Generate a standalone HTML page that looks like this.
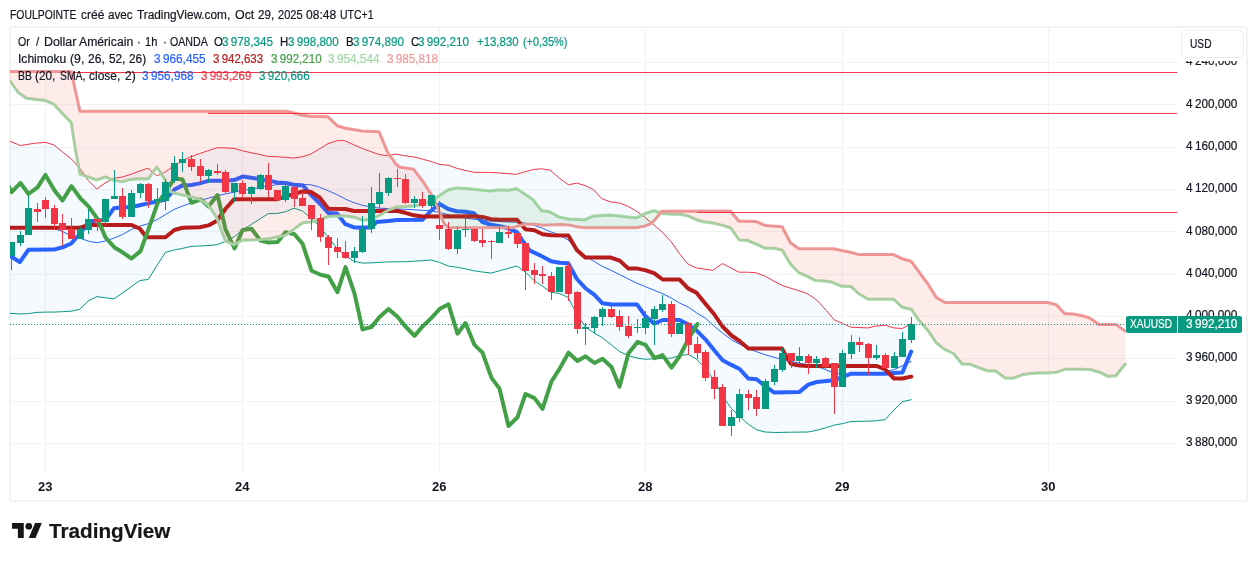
<!DOCTYPE html>
<html><head><meta charset="utf-8"><title>chart</title>
<style>
html,body{margin:0;padding:0;background:#fff;}
body{width:1257px;height:561px;position:relative;overflow:hidden;font-family:"Liberation Sans",sans-serif;color:#131722;}
.t{position:absolute;white-space:pre;transform-origin:0 0;-webkit-text-stroke:0.2px currentColor;}
#frame{position:absolute;left:9px;top:26px;width:1235px;height:472px;border:2px solid #f3f3f4;border-radius:3px;box-sizing:content-box;}
svg{position:absolute;left:0;top:0;}
#usd{position:absolute;left:1181px;top:30px;width:60.5px;height:25.5px;border:1px solid #eeeef0;border-radius:4.5px;background:#fff;box-sizing:content-box;}
.lab{position:absolute;top:316px;height:17px;background:#089981;}
</style></head><body>
<div id="frame"></div>
<svg width="1257" height="561" viewBox="0 0 1257 561">
<defs><clipPath id="cp"><rect x="10" y="27" width="1167" height="446"/></clipPath></defs>
<g clip-path="url(#cp)">
<line x1="10" x2="1177" y1="62.5" y2="62.5" stroke="#f2f3f3" stroke-width="1"/>
<line x1="10" x2="1177" y1="104.5" y2="104.5" stroke="#f2f3f3" stroke-width="1"/>
<line x1="10" x2="1177" y1="147.5" y2="147.5" stroke="#f2f3f3" stroke-width="1"/>
<line x1="10" x2="1177" y1="189.5" y2="189.5" stroke="#f2f3f3" stroke-width="1"/>
<line x1="10" x2="1177" y1="231.5" y2="231.5" stroke="#f2f3f3" stroke-width="1"/>
<line x1="10" x2="1177" y1="274.5" y2="274.5" stroke="#f2f3f3" stroke-width="1"/>
<line x1="10" x2="1177" y1="316.5" y2="316.5" stroke="#f2f3f3" stroke-width="1"/>
<line x1="10" x2="1177" y1="358.5" y2="358.5" stroke="#f2f3f3" stroke-width="1"/>
<line x1="10" x2="1177" y1="401.5" y2="401.5" stroke="#f2f3f3" stroke-width="1"/>
<line x1="10" x2="1177" y1="443.5" y2="443.5" stroke="#f2f3f3" stroke-width="1"/>
<line x1="45.5" x2="45.5" y1="27" y2="473" stroke="#f2f3f3" stroke-width="1"/>
<line x1="242.5" x2="242.5" y1="27" y2="473" stroke="#f2f3f3" stroke-width="1"/>
<line x1="439.5" x2="439.5" y1="27" y2="473" stroke="#f2f3f3" stroke-width="1"/>
<line x1="645.5" x2="645.5" y1="27" y2="473" stroke="#f2f3f3" stroke-width="1"/>
<line x1="842.5" x2="842.5" y1="27" y2="473" stroke="#f2f3f3" stroke-width="1"/>
<line x1="1048.5" x2="1048.5" y1="27" y2="473" stroke="#f2f3f3" stroke-width="1"/>
<polyline points="10.0,226.8 45.4,227.8 54.0,228.5 62.6,231.6 71.2,235.7 79.8,238.1 88.4,241.2 97.0,242.8 105.6,240.9 113.9,238.1 122.5,234.5 131.1,229.7 139.7,226.1 148.3,223.7 156.9,219.7 165.5,214.5 174.1,209.4 182.7,206.0 191.1,203.0 199.7,200.6 208.3,198.2 216.9,195.8 225.5,193.9 234.1,192.2 242.7,190.5 251.3,189.0 259.9,187.5 268.5,186.0 277.0,184.6 285.6,183.7 294.2,183.6 303.0,184.3 311.0,184.8 319.6,187.2 328.2,190.7 336.8,194.5 345.4,199.1 354.0,202.7 362.4,205.3 371.0,207.0 379.6,208.2 405.4,209.3 422.6,210.3 431.0,210.8 439.5,212.5 448.1,214.6 456.7,216.5 465.3,218.0 473.9,219.3 482.5,220.1 491.1,221.1 499.7,221.6 508.1,222.0 516.7,222.3 525.3,223.0 533.9,225.2 542.5,228.3 551.1,232.0 559.5,235.0 568.2,240.0 576.9,249.5 585.4,256.5 593.8,261.2 602.2,266.3 610.8,270.2 619.7,274.6 628.1,278.9 636.6,283.0 645.2,286.6 654.0,290.2 662.7,293.7 671.2,298.0 679.5,303.0 688.2,307.0 696.7,313.0 705.2,318.0 714.0,326.0 722.5,333.0 731.5,339.8 748.4,348.8 765.3,354.8 782.2,359.6 799.0,363.0 816.7,366.3 825.5,369.7 834.3,373.0 842.6,374.0 876.5,373.7 885.2,372.0 894.0,369.6 902.4,365.8 911.2,361.4" fill="none" stroke="#2962ff" stroke-width="1" stroke-linejoin="round" stroke-linecap="round" />
<polyline points="10.0,141.2 20.3,145.5 35.8,143.1 45.4,142.4 53.7,144.8 62.6,152.0 71.6,159.1 80.0,168.7 88.4,180.6 96.7,189.0 105.1,183.0 114.2,178.2 122.5,177.0 131.1,174.2 139.5,171.1 148.1,168.2 156.7,175.8 164.8,172.3 173.2,166.3 182.7,160.3 191.1,156.7 199.4,153.6 207.8,150.8 217.3,147.7 225.2,147.9 234.1,148.4 242.4,150.8 250.8,152.7 259.1,154.3 267.5,156.3 277.0,156.7 286.6,157.4 293.1,158.1 301.5,156.9 309.9,154.5 318.2,149.7 327.8,143.7 337.3,140.6 344.5,140.6 354.0,144.9 362.4,148.5 370.8,151.6 379.1,154.5 387.5,155.7 395.8,154.0 404.2,155.7 413.7,156.9 423.3,159.3 431.7,161.7 440.0,164.5 448.4,165.2 456.7,168.3 466.3,170.7 474.7,172.4 491.4,172.4 508.1,173.6 516.4,174.3 524.8,171.9 533.2,169.5 541.5,168.8 549.9,170.0 558.2,177.2 568.4,184.8 576.7,183.1 585.0,185.5 593.4,189.6 601.8,198.7 610.2,201.8 619.7,203.0 628.1,206.3 636.4,211.1 644.8,217.3 653.9,224.9 662.7,232.6 671.1,241.6 679.4,253.6 687.8,263.9 696.1,267.9 704.5,269.1 712.9,270.3 722.4,263.6 730.8,267.9 739.1,272.2 747.5,272.2 755.8,272.7 765.4,276.3 773.8,281.1 782.1,285.4 790.5,288.2 798.8,290.6 807.2,293.7 815.5,299.0 820.0,303.5 826.4,310.5 834.1,319.8 842.5,323.4 850.8,327.2 859.8,327.6 868.1,327.9 876.5,325.9 885.5,325.3 893.8,327.9 902.2,328.5 911.2,323.6" fill="none" stroke="#f23645" stroke-width="1" stroke-linejoin="round" stroke-linecap="round" />
<polyline points="10.0,313.3 19.8,314.0 28.4,313.6 37.0,312.4 45.4,312.1 54.0,312.1 62.6,311.7 71.2,311.2 79.8,309.3 88.4,300.9 97.0,296.6 105.6,297.8 113.9,298.8 122.5,293.0 131.1,286.8 139.7,280.6 148.3,279.4 156.9,265.6 165.5,252.4 174.1,250.0 182.7,248.4 191.1,246.4 199.7,246.0 208.3,245.5 216.9,244.8 225.5,241.4 234.1,236.9 242.7,229.7 251.3,224.5 259.9,219.0 268.2,213.7 276.8,213.5 285.4,211.8 294.0,208.2 302.5,211.0 311.0,218.2 319.6,226.6 328.2,237.3 336.8,248.1 345.4,256.0 354.0,261.2 362.4,263.1 371.0,262.9 379.6,262.4 388.2,261.9 405.4,261.7 414.0,261.2 422.6,260.7 430.9,260.0 439.5,262.4 448.1,266.0 456.7,267.2 465.3,268.8 473.9,270.8 482.5,272.0 491.1,273.1 499.7,270.8 508.1,268.4 516.7,266.0 525.3,272.0 533.9,280.3 542.5,286.3 551.1,292.3 559.4,293.4 568.2,297.5 577.2,315.1 585.6,327.0 594.2,333.0 602.5,337.8 611.3,344.9 619.7,351.6 628.5,355.7 637.1,358.1 645.5,359.3 654.3,358.8 662.7,358.5 671.5,358.1 679.8,355.5 688.5,354.5 696.2,358.9 705.4,368.4 714.0,380.5 722.6,396.0 731.6,408.8 739.5,416.5 748.4,424.3 756.7,429.8 765.1,432.0 774.6,432.5 791.4,432.2 808.1,432.0 816.7,430.3 825.5,427.9 834.3,425.1 842.7,423.6 851.1,421.5 867.8,421.2 876.4,420.8 885.2,419.6 894.0,410.0 902.4,401.7 911.2,399.7" fill="none" stroke="#089981" stroke-width="1" stroke-linejoin="round" stroke-linecap="round" />
<polygon points="10.0,141.2 20.3,145.5 35.8,143.1 45.4,142.4 53.7,144.8 62.6,152.0 71.6,159.1 80.0,168.7 88.4,180.6 96.7,189.0 105.1,183.0 114.2,178.2 122.5,177.0 131.1,174.2 139.5,171.1 148.1,168.2 156.7,175.8 164.8,172.3 173.2,166.3 182.7,160.3 191.1,156.7 199.4,153.6 207.8,150.8 217.3,147.7 225.2,147.9 234.1,148.4 242.4,150.8 250.8,152.7 259.1,154.3 267.5,156.3 277.0,156.7 286.6,157.4 293.1,158.1 301.5,156.9 309.9,154.5 318.2,149.7 327.8,143.7 337.3,140.6 344.5,140.6 354.0,144.9 362.4,148.5 370.8,151.6 379.1,154.5 387.5,155.7 395.8,154.0 404.2,155.7 413.7,156.9 423.3,159.3 431.7,161.7 440.0,164.5 448.4,165.2 456.7,168.3 466.3,170.7 474.7,172.4 491.4,172.4 508.1,173.6 516.4,174.3 524.8,171.9 533.2,169.5 541.5,168.8 549.9,170.0 558.2,177.2 568.4,184.8 576.7,183.1 585.0,185.5 593.4,189.6 601.8,198.7 610.2,201.8 619.7,203.0 628.1,206.3 636.4,211.1 644.8,217.3 653.9,224.9 662.7,232.6 671.1,241.6 679.4,253.6 687.8,263.9 696.1,267.9 704.5,269.1 712.9,270.3 722.4,263.6 730.8,267.9 739.1,272.2 747.5,272.2 755.8,272.7 765.4,276.3 773.8,281.1 782.1,285.4 790.5,288.2 798.8,290.6 807.2,293.7 815.5,299.0 820.0,303.5 826.4,310.5 834.1,319.8 842.5,323.4 850.8,327.2 859.8,327.6 868.1,327.9 876.5,325.9 885.5,325.3 893.8,327.9 902.2,328.5 911.2,323.6 911.2,399.7 902.4,401.7 894.0,410.0 885.2,419.6 876.4,420.8 867.8,421.2 851.1,421.5 842.7,423.6 834.3,425.1 825.5,427.9 816.7,430.3 808.1,432.0 791.4,432.2 774.6,432.5 765.1,432.0 756.7,429.8 748.4,424.3 739.5,416.5 731.6,408.8 722.6,396.0 714.0,380.5 705.4,368.4 696.2,358.9 688.5,354.5 679.8,355.5 671.5,358.1 662.7,358.5 654.3,358.8 645.5,359.3 637.1,358.1 628.5,355.7 619.7,351.6 611.3,344.9 602.5,337.8 594.2,333.0 585.6,327.0 577.2,315.1 568.2,297.5 559.4,293.4 551.1,292.3 542.5,286.3 533.9,280.3 525.3,272.0 516.7,266.0 508.1,268.4 499.7,270.8 491.1,273.1 482.5,272.0 473.9,270.8 465.3,268.8 456.7,267.2 448.1,266.0 439.5,262.4 430.9,260.0 422.6,260.7 414.0,261.2 405.4,261.7 388.2,261.9 379.6,262.4 371.0,262.9 362.4,263.1 354.0,261.2 345.4,256.0 336.8,248.1 328.2,237.3 319.6,226.6 311.0,218.2 302.5,211.0 294.0,208.2 285.4,211.8 276.8,213.5 268.2,213.7 259.9,219.0 251.3,224.5 242.7,229.7 234.1,236.9 225.5,241.4 216.9,244.8 208.3,245.5 199.7,246.0 191.1,246.4 182.7,248.4 174.1,250.0 165.5,252.4 156.9,265.6 148.3,279.4 139.7,280.6 131.1,286.8 122.5,293.0 113.9,298.8 105.6,297.8 97.0,296.6 88.4,300.9 79.8,309.3 71.2,311.2 62.6,311.7 54.0,312.1 45.4,312.1 37.0,312.4 28.4,313.6 19.8,314.0 10.0,313.3" fill="rgba(33,150,243,0.05)"/>
<polyline points="10.0,256.0 11.2,256.5 19.8,262.2 28.4,249.8 54.0,249.6 62.6,247.3 71.2,243.5 79.8,234.0 88.4,222.0 97.0,220.3 105.6,219.9 113.9,208.2 122.5,207.2 131.1,207.2 139.7,205.2 148.3,203.4 156.9,201.5 165.5,199.5 174.5,189.5 182.6,185.4 191.1,185.0 199.7,183.4 208.4,180.8 226.0,180.8 234.2,180.1 242.7,176.6 251.3,177.8 260.0,179.0 268.6,180.6 277.1,182.4 285.5,183.0 294.0,184.8 302.9,185.4 311.1,195.0 319.6,203.4 328.3,213.0 337.0,213.5 345.4,224.2 354.1,227.4 371.1,227.6 376.5,222.0 388.3,221.0 397.0,220.1 422.6,219.7 431.2,210.5 439.7,204.0 448.2,209.0 456.7,211.2 465.3,211.8 474.0,213.3 482.5,222.0 491.2,224.8 499.7,226.2 508.2,228.3 517.0,232.2 523.5,242.3 529.9,250.6 539.5,255.1 551.2,261.3 559.7,262.8 568.2,263.2 576.9,279.0 585.7,288.5 594.2,294.7 602.5,303.3 611.3,304.4 637.0,304.4 645.5,316.4 654.2,323.6 662.7,320.0 679.5,320.0 688.4,324.6 696.4,330.4 705.4,339.3 714.0,350.0 722.6,360.2 731.4,364.9 739.6,369.0 748.4,378.6 756.7,379.3 765.2,386.2 774.2,392.6 799.5,391.9 808.3,384.6 816.7,382.0 834.3,380.2 842.6,377.0 851.1,373.7 885.2,373.7 894.0,373.0 902.4,372.5 911.2,351.5" fill="none" stroke="#2962ff" stroke-width="4" stroke-linejoin="round" stroke-linecap="round" />
<polyline points="10.0,227.8 79.8,227.8 88.4,224.9 131.1,224.9 139.7,228.5 146.5,237.2 165.5,237.2 174.3,230.0 182.6,227.8 199.7,227.3 208.4,225.4 217.0,220.7 225.8,208.5 234.2,199.2 277.3,199.2 285.7,196.5 294.0,193.9 302.5,191.5 311.0,192.0 319.6,197.5 328.3,208.7 345.4,209.0 354.0,211.0 379.6,211.0 396.8,210.8 405.4,212.8 414.0,215.3 422.6,216.5 474.2,216.3 482.5,216.9 491.2,219.3 499.7,219.7 517.0,219.7 525.4,229.2 534.4,230.2 542.6,234.3 551.2,235.2 568.3,235.6 576.8,250.0 585.3,257.6 610.8,257.6 619.7,260.6 628.1,268.4 636.4,268.4 645.0,270.1 654.0,273.2 662.7,279.5 679.5,279.5 688.0,288.4 696.5,292.8 705.4,303.8 714.0,314.0 722.5,326.5 731.5,335.5 739.5,341.0 748.4,348.5 782.0,348.5 786.8,357.5 791.1,364.0 799.5,365.6 808.3,365.9 876.4,365.9 885.2,369.4 894.0,378.5 902.4,378.5 911.2,376.6" fill="none" stroke="#b71c1c" stroke-width="4" stroke-linejoin="round" stroke-linecap="round" />
<polyline points="2.5,173.0 11.5,192.1 20.5,183.0 28.5,194.0 37.5,187.3 45.5,174.9 54.5,190.4 62.5,200.5 71.5,186.1 80.5,198.5 88.5,206.4 97.5,218.8 105.5,237.5 114.5,247.5 122.5,252.3 131.5,258.5 140.5,251.1 148.5,229.1 157.5,203.3 165.5,192.1 174.5,178.2 182.5,179.4 191.5,202.8 200.5,199.3 208.5,206.4 217.5,195.0 225.5,229.4 234.5,248.5 242.5,230.1 251.5,228.7 260.5,240.6 268.5,242.5 277.5,242.1 285.5,232.3 294.5,234.2 302.5,243.7 311.5,270.7 320.5,274.8 328.5,276.5 337.5,292.2 345.5,267.1 354.5,293.6 362.5,329.4 371.5,327.0 379.5,317.0 388.5,309.1 397.5,316.7 405.5,326.5 414.5,335.9 422.5,326.5 431.5,317.9 439.5,309.1 448.5,304.3 457.5,333.7 465.5,323.0 474.5,344.9 482.5,352.6 491.5,377.9 499.5,388.6 508.5,426.0 517.5,417.2 525.5,394.0 534.5,398.1 542.5,408.8 551.5,381.3 559.5,368.9 568.5,352.7 577.5,361.0 585.5,356.3 594.5,363.0 602.5,358.7 611.5,367.0 619.5,386.8 628.5,353.2 637.5,341.9 645.5,344.8 654.5,358.2 662.5,355.1 671.5,367.7 679.5,356.3 688.5,339.1 697.5,324.0" fill="none" stroke="#43a047" stroke-width="4" stroke-linejoin="round" stroke-linecap="round" />
<polyline points="10.0,81.0 17.9,92.2 26.3,98.2 35.8,99.4 45.4,100.6 53.7,104.2 62.6,113.7 71.2,122.6 75.2,148.4 80.0,174.2 88.4,177.0 96.7,180.1 105.1,177.0 114.2,180.6 122.5,181.8 131.1,179.4 139.5,178.7 148.4,179.0 156.7,167.0 161.5,174.2 165.6,181.3 169.9,190.9 174.2,193.3 182.5,195.0 191.1,196.9 199.7,199.3 208.5,205.2 217.1,218.4 221.2,230.3 225.5,241.0 233.9,244.6 242.2,240.3 251.1,239.9 260.1,239.4 269.0,238.7 277.3,237.0 285.7,235.1 294.0,229.1 302.9,222.7 311.2,222.0 320.1,219.6 328.4,216.5 337.3,216.0 345.4,216.0 354.2,217.2 362.6,220.3 371.2,219.6 379.6,215.5 388.4,210.0 397.2,206.9 405.6,206.4 414.2,206.0 422.5,204.5 431.7,201.0 440.0,195.1 448.4,189.8 456.7,187.9 466.3,188.4 483.0,190.3 491.4,191.0 498.5,189.8 508.1,190.3 516.4,188.6 524.8,193.9 533.2,199.9 541.5,210.6 549.9,211.8 558.2,216.6 568.4,219.0 585.0,219.7 593.4,216.1 610.2,214.9 619.7,215.9 628.1,217.0 636.4,217.8 644.8,213.5 653.9,210.6 662.7,213.5 671.1,214.2 679.4,214.2 687.8,215.9 696.1,219.7 704.5,222.1 712.9,223.0 722.4,225.4 730.8,228.0 739.1,240.0 747.5,240.5 755.8,244.0 765.4,248.3 773.8,248.3 782.1,250.0 790.5,264.3 798.8,272.7 807.2,276.3 815.5,280.6 823.9,281.1 832.3,282.3 841.8,286.3 850.7,286.4 859.1,294.0 868.2,299.3 893.7,299.3 902.1,307.2 911.5,309.5 919.1,320.6 927.7,330.2 936.3,343.0 944.9,349.6 953.5,353.5 962.0,364.0 970.6,364.3 979.2,367.8 987.8,371.0 995.5,371.0 1005.0,377.9 1012.6,378.3 1022.2,374.8 1030.8,373.5 1039.4,373.1 1048.0,372.9 1056.6,372.2 1065.2,369.3 1073.7,369.3 1082.3,369.3 1090.9,369.7 1099.5,372.2 1108.1,376.4 1115.8,375.8 1125.3,364.0" fill="none" stroke="#a5d6a7" stroke-width="3" stroke-linejoin="round" stroke-linecap="round" />
<polyline points="10.0,71.5 71.2,71.5 80.0,111.3 286.6,111.3 293.0,112.7 301.5,115.0 310.0,116.3 327.8,116.7 337.3,125.8 345.7,128.2 362.4,131.0 379.1,131.8 387.5,152.0 395.8,164.0 399.4,167.0 413.7,169.3 423.3,182.0 431.7,195.0 434.8,200.7 439.6,212.7 443.9,223.4 447.9,227.5 512.4,227.7 520.8,225.3 525.5,224.2 534.4,224.2 542.7,225.3 560.0,224.5 568.4,224.9 576.7,226.8 585.0,227.8 636.4,227.8 644.8,226.1 650.8,223.7 652.5,222.4 656.8,217.6 661.7,211.2 730.5,211.0 738.7,221.0 755.8,221.4 765.4,225.6 782.1,226.8 790.5,242.8 798.8,248.8 833.5,248.8 841.8,250.5 850.7,252.2 859.1,254.6 893.7,254.6 902.1,258.7 911.2,261.3 919.5,272.5 927.9,284.0 936.3,297.4 945.1,302.5 1047.8,302.5 1056.1,304.6 1064.5,313.6 1072.9,313.9 1081.2,315.5 1089.6,317.9 1099.1,324.4 1115.9,324.4 1125.3,331.1" fill="none" stroke="#ef9a9a" stroke-width="3" stroke-linejoin="round" stroke-linecap="round" />
<polygon points="10.0,81.0 17.9,92.2 26.3,98.2 35.8,99.4 45.4,100.6 53.7,104.2 62.6,113.7 71.2,122.6 75.2,148.4 80.0,174.2 88.4,177.0 96.7,180.1 105.1,177.0 114.2,180.6 122.5,181.8 131.1,179.4 139.5,178.7 148.4,179.0 156.7,167.0 161.5,174.2 165.6,181.3 169.9,190.9 174.2,193.3 182.5,195.0 191.1,196.9 199.7,199.3 208.5,205.2 217.1,218.4 221.2,230.3 225.5,241.0 233.9,244.6 242.2,240.3 251.1,239.9 260.1,239.4 269.0,238.7 277.3,237.0 285.7,235.1 286.6,234.4 293.0,229.8 294.0,229.1 301.5,223.7 302.9,222.7 310.0,222.1 311.2,222.0 320.1,219.6 327.8,216.7 328.4,216.5 337.3,216.0 345.4,216.0 345.7,216.0 354.2,217.2 362.4,220.2 362.6,220.3 371.2,219.6 379.1,215.7 379.6,215.5 387.5,210.6 388.4,210.0 395.8,207.4 397.2,206.9 399.4,206.8 405.6,206.4 413.7,206.0 414.2,206.0 422.5,204.5 423.3,204.2 431.7,201.0 434.1,199.3 434.1,199.3 431.7,195.0 423.3,182.0 422.5,180.9 414.2,170.0 413.7,169.3 405.6,168.0 399.4,167.0 397.2,165.2 395.8,164.0 388.4,153.3 387.5,152.0 379.6,133.0 379.1,131.8 371.2,131.4 362.6,131.0 362.4,131.0 354.2,129.6 345.7,128.2 345.4,128.1 337.3,125.8 328.4,117.3 327.8,116.7 320.1,116.5 311.2,116.3 310.0,116.3 302.9,115.2 301.5,115.0 294.0,113.0 293.0,112.7 286.6,111.3 285.7,111.3 277.3,111.3 269.0,111.3 260.1,111.3 251.1,111.3 242.2,111.3 233.9,111.3 225.5,111.3 221.2,111.3 217.1,111.3 208.5,111.3 199.7,111.3 191.1,111.3 182.5,111.3 174.2,111.3 169.9,111.3 165.6,111.3 161.5,111.3 156.7,111.3 148.4,111.3 139.5,111.3 131.1,111.3 122.5,111.3 114.2,111.3 105.1,111.3 96.7,111.3 88.4,111.3 80.0,111.3 75.2,89.6 71.2,71.5 62.6,71.5 53.7,71.5 45.4,71.5 35.8,71.5 26.3,71.5 17.9,71.5 10.0,71.5" fill="rgba(244,67,54,0.1)"/>
<polygon points="434.1,199.3 434.8,198.8 439.6,195.4 440.0,195.1 443.9,192.6 447.9,190.1 448.4,189.8 456.7,187.9 466.3,188.4 483.0,190.3 491.4,191.0 498.5,189.8 508.1,190.3 512.4,189.4 516.4,188.6 520.8,191.4 524.8,193.9 525.5,194.4 533.2,199.9 534.4,201.4 541.5,210.6 542.7,210.8 549.9,211.8 558.2,216.6 560.0,217.0 568.4,219.0 576.7,219.3 585.0,219.7 593.4,216.1 610.2,214.9 619.7,215.9 628.1,217.0 636.4,217.8 644.8,213.5 650.8,211.6 652.5,211.0 653.9,210.6 656.8,211.6 660.5,212.8 660.5,212.8 656.8,217.6 653.9,220.8 652.5,222.4 650.8,223.7 644.8,226.1 636.4,227.8 628.1,227.8 619.7,227.8 610.2,227.8 593.4,227.8 585.0,227.8 576.7,226.8 568.4,224.9 560.0,224.5 558.2,224.6 549.9,225.0 542.7,225.3 541.5,225.1 534.4,224.2 533.2,224.2 525.5,224.2 524.8,224.4 520.8,225.3 516.4,226.6 512.4,227.7 508.1,227.7 498.5,227.7 491.4,227.6 483.0,227.6 466.3,227.6 456.7,227.5 448.4,227.5 447.9,227.5 443.9,223.4 440.0,213.7 439.6,212.7 434.8,200.7 434.1,199.3" fill="rgba(67,160,71,0.1)"/>
<polygon points="660.5,212.8 661.7,213.2 662.7,213.5 671.1,214.2 679.4,214.2 687.8,215.9 696.1,219.7 704.5,222.1 712.9,223.0 722.4,225.4 730.5,227.9 730.8,228.0 738.7,239.4 739.1,240.0 747.5,240.5 755.8,244.0 765.4,248.3 773.8,248.3 782.1,250.0 790.5,264.3 798.8,272.7 807.2,276.3 815.5,280.6 823.9,281.1 832.3,282.3 833.5,282.8 841.8,286.3 850.7,286.4 859.1,294.0 868.2,299.3 893.7,299.3 902.1,307.2 911.2,309.4 911.5,309.5 919.1,320.6 919.5,321.0 927.7,330.2 927.9,330.5 936.3,343.0 944.9,349.6 945.1,349.7 953.5,353.5 962.0,364.0 970.6,364.3 979.2,367.8 987.8,371.0 995.5,371.0 1005.0,377.9 1012.6,378.3 1022.2,374.8 1030.8,373.5 1039.4,373.1 1047.8,372.9 1048.0,372.9 1056.1,372.2 1056.6,372.2 1064.5,369.5 1065.2,369.3 1072.9,369.3 1073.7,369.3 1081.2,369.3 1082.3,369.3 1089.6,369.6 1090.9,369.7 1099.1,372.1 1099.5,372.2 1108.1,376.4 1115.8,375.8 1115.9,375.7 1125.3,364.0 1125.3,331.1 1115.9,324.4 1115.8,324.4 1108.1,324.4 1099.5,324.4 1099.1,324.4 1090.9,318.8 1089.6,317.9 1082.3,315.8 1081.2,315.5 1073.7,314.1 1072.9,313.9 1065.2,313.6 1064.5,313.6 1056.6,305.1 1056.1,304.6 1048.0,302.6 1047.8,302.5 1039.4,302.5 1030.8,302.5 1022.2,302.5 1012.6,302.5 1005.0,302.5 995.5,302.5 987.8,302.5 979.2,302.5 970.6,302.5 962.0,302.5 953.5,302.5 945.1,302.5 944.9,302.4 936.3,297.4 927.9,284.0 927.7,283.7 919.5,272.5 919.1,272.0 911.5,261.7 911.2,261.3 902.1,258.7 893.7,254.6 868.2,254.6 859.1,254.6 850.7,252.2 841.8,250.5 833.5,248.8 832.3,248.8 823.9,248.8 815.5,248.8 807.2,248.8 798.8,248.8 790.5,242.8 782.1,226.8 773.8,226.2 765.4,225.6 755.8,221.4 747.5,221.2 739.1,221.0 738.7,221.0 730.8,211.4 730.5,211.0 722.4,211.0 712.9,211.1 704.5,211.1 696.1,211.1 687.8,211.1 679.4,211.1 671.1,211.2 662.7,211.2 661.7,211.2 660.5,212.8" fill="rgba(244,67,54,0.1)"/>
<line x1="11.5" x2="11.5" y1="242.0" y2="270.0" stroke="#089981" stroke-width="1"/>
<rect x="8.0" y="242.0" width="7" height="14.0" fill="#089981"/>
<line x1="20.5" x2="20.5" y1="231.0" y2="246.0" stroke="#089981" stroke-width="1"/>
<rect x="17.0" y="235.0" width="7" height="8.0" fill="#089981"/>
<line x1="28.5" x2="28.5" y1="196.0" y2="235.0" stroke="#089981" stroke-width="1"/>
<rect x="25.0" y="208.0" width="7" height="27.0" fill="#089981"/>
<line x1="37.5" x2="37.5" y1="203.0" y2="222.0" stroke="#f23645" stroke-width="1"/>
<rect x="34.0" y="209.0" width="7" height="3.0" fill="#f23645"/>
<line x1="45.5" x2="45.5" y1="197.0" y2="218.0" stroke="#f23645" stroke-width="1"/>
<rect x="42.0" y="200.0" width="7" height="9.0" fill="#f23645"/>
<line x1="54.5" x2="54.5" y1="205.0" y2="230.0" stroke="#f23645" stroke-width="1"/>
<rect x="51.0" y="208.0" width="7" height="16.0" fill="#f23645"/>
<line x1="62.5" x2="62.5" y1="214.0" y2="246.0" stroke="#f23645" stroke-width="1"/>
<rect x="59.0" y="223.0" width="7" height="7.0" fill="#f23645"/>
<line x1="71.5" x2="71.5" y1="218.0" y2="239.0" stroke="#f23645" stroke-width="1"/>
<rect x="68.0" y="229.0" width="7" height="10.0" fill="#f23645"/>
<line x1="80.5" x2="80.5" y1="227.0" y2="239.0" stroke="#089981" stroke-width="1"/>
<rect x="77.0" y="229.0" width="7" height="10.0" fill="#089981"/>
<line x1="88.5" x2="88.5" y1="209.0" y2="234.0" stroke="#089981" stroke-width="1"/>
<rect x="85.0" y="219.0" width="7" height="11.0" fill="#089981"/>
<line x1="97.5" x2="97.5" y1="218.0" y2="231.0" stroke="#f23645" stroke-width="1"/>
<rect x="94.0" y="219.0" width="7" height="3.0" fill="#f23645"/>
<line x1="105.5" x2="105.5" y1="199.0" y2="226.0" stroke="#089981" stroke-width="1"/>
<rect x="102.0" y="199.0" width="7" height="23.0" fill="#089981"/>
<line x1="114.5" x2="114.5" y1="170.0" y2="199.0" stroke="#089981" stroke-width="1"/>
<rect x="111.0" y="196.0" width="7" height="3.0" fill="#089981"/>
<line x1="122.5" x2="122.5" y1="188.0" y2="219.0" stroke="#f23645" stroke-width="1"/>
<rect x="119.0" y="196.0" width="7" height="21.0" fill="#f23645"/>
<line x1="131.5" x2="131.5" y1="190.0" y2="217.0" stroke="#089981" stroke-width="1"/>
<rect x="128.0" y="193.0" width="7" height="24.0" fill="#089981"/>
<line x1="140.5" x2="140.5" y1="183.0" y2="198.0" stroke="#089981" stroke-width="1"/>
<rect x="137.0" y="184.0" width="7" height="9.0" fill="#089981"/>
<line x1="148.5" x2="148.5" y1="183.0" y2="208.0" stroke="#f23645" stroke-width="1"/>
<rect x="145.0" y="184.0" width="7" height="17.0" fill="#f23645"/>
<line x1="157.5" x2="157.5" y1="188.0" y2="202.0" stroke="#089981" stroke-width="1"/>
<rect x="154.0" y="199.0" width="7" height="2.0" fill="#089981"/>
<line x1="165.5" x2="165.5" y1="179.0" y2="210.0" stroke="#089981" stroke-width="1"/>
<rect x="162.0" y="182.0" width="7" height="19.0" fill="#089981"/>
<line x1="174.5" x2="174.5" y1="156.0" y2="183.0" stroke="#089981" stroke-width="1"/>
<rect x="171.0" y="163.0" width="7" height="18.0" fill="#089981"/>
<line x1="182.5" x2="182.5" y1="152.0" y2="172.0" stroke="#089981" stroke-width="1"/>
<rect x="179.0" y="159.0" width="7" height="4.0" fill="#089981"/>
<line x1="191.5" x2="191.5" y1="155.0" y2="171.0" stroke="#f23645" stroke-width="1"/>
<rect x="188.0" y="159.0" width="7" height="8.0" fill="#f23645"/>
<line x1="200.5" x2="200.5" y1="159.0" y2="182.0" stroke="#f23645" stroke-width="1"/>
<rect x="197.0" y="166.0" width="7" height="10.0" fill="#f23645"/>
<line x1="208.5" x2="208.5" y1="169.0" y2="183.0" stroke="#089981" stroke-width="1"/>
<rect x="205.0" y="170.0" width="7" height="6.0" fill="#089981"/>
<line x1="217.5" x2="217.5" y1="164.0" y2="175.0" stroke="#f23645" stroke-width="1"/>
<rect x="214.0" y="171.0" width="7" height="2.0" fill="#f23645"/>
<line x1="225.5" x2="225.5" y1="170.0" y2="193.0" stroke="#f23645" stroke-width="1"/>
<rect x="222.0" y="172.0" width="7" height="20.0" fill="#f23645"/>
<line x1="234.5" x2="234.5" y1="183.0" y2="202.0" stroke="#089981" stroke-width="1"/>
<rect x="231.0" y="183.0" width="7" height="9.0" fill="#089981"/>
<line x1="242.5" x2="242.5" y1="180.0" y2="198.0" stroke="#f23645" stroke-width="1"/>
<rect x="239.0" y="183.0" width="7" height="11.0" fill="#f23645"/>
<line x1="251.5" x2="251.5" y1="186.0" y2="204.0" stroke="#089981" stroke-width="1"/>
<rect x="248.0" y="187.0" width="7" height="7.0" fill="#089981"/>
<line x1="260.5" x2="260.5" y1="174.0" y2="190.0" stroke="#089981" stroke-width="1"/>
<rect x="257.0" y="175.0" width="7" height="14.0" fill="#089981"/>
<line x1="268.5" x2="268.5" y1="163.0" y2="198.0" stroke="#f23645" stroke-width="1"/>
<rect x="265.0" y="175.0" width="7" height="15.0" fill="#f23645"/>
<line x1="277.5" x2="277.5" y1="190.0" y2="201.0" stroke="#f23645" stroke-width="1"/>
<rect x="274.0" y="190.0" width="7" height="10.0" fill="#f23645"/>
<line x1="285.5" x2="285.5" y1="185.0" y2="202.0" stroke="#089981" stroke-width="1"/>
<rect x="282.0" y="186.0" width="7" height="14.0" fill="#089981"/>
<line x1="294.5" x2="294.5" y1="187.0" y2="207.0" stroke="#f23645" stroke-width="1"/>
<rect x="291.0" y="187.0" width="7" height="12.0" fill="#f23645"/>
<line x1="302.5" x2="302.5" y1="192.0" y2="206.0" stroke="#f23645" stroke-width="1"/>
<rect x="299.0" y="198.0" width="7" height="8.0" fill="#f23645"/>
<line x1="311.5" x2="311.5" y1="205.0" y2="230.0" stroke="#f23645" stroke-width="1"/>
<rect x="308.0" y="205.0" width="7" height="14.0" fill="#f23645"/>
<line x1="320.5" x2="320.5" y1="214.0" y2="242.0" stroke="#f23645" stroke-width="1"/>
<rect x="317.0" y="218.0" width="7" height="19.0" fill="#f23645"/>
<line x1="328.5" x2="328.5" y1="235.0" y2="265.0" stroke="#f23645" stroke-width="1"/>
<rect x="325.0" y="237.0" width="7" height="11.0" fill="#f23645"/>
<line x1="337.5" x2="337.5" y1="238.0" y2="258.0" stroke="#f23645" stroke-width="1"/>
<rect x="334.0" y="247.0" width="7" height="5.0" fill="#f23645"/>
<line x1="345.5" x2="345.5" y1="241.0" y2="259.0" stroke="#f23645" stroke-width="1"/>
<rect x="342.0" y="252.0" width="7" height="6.0" fill="#f23645"/>
<line x1="354.5" x2="354.5" y1="247.0" y2="263.0" stroke="#089981" stroke-width="1"/>
<rect x="351.0" y="251.0" width="7" height="7.0" fill="#089981"/>
<line x1="362.5" x2="362.5" y1="216.0" y2="253.0" stroke="#089981" stroke-width="1"/>
<rect x="359.0" y="229.0" width="7" height="23.0" fill="#089981"/>
<line x1="371.5" x2="371.5" y1="187.0" y2="233.0" stroke="#089981" stroke-width="1"/>
<rect x="368.0" y="203.0" width="7" height="26.0" fill="#089981"/>
<line x1="379.5" x2="379.5" y1="173.0" y2="208.0" stroke="#089981" stroke-width="1"/>
<rect x="376.0" y="192.0" width="7" height="12.0" fill="#089981"/>
<line x1="388.5" x2="388.5" y1="177.0" y2="196.0" stroke="#089981" stroke-width="1"/>
<rect x="385.0" y="178.0" width="7" height="15.0" fill="#089981"/>
<line x1="397.5" x2="397.5" y1="169.0" y2="187.0" stroke="#f23645" stroke-width="1"/>
<rect x="394.0" y="178.0" width="7" height="1.0" fill="#f23645"/>
<line x1="405.5" x2="405.5" y1="174.0" y2="204.0" stroke="#f23645" stroke-width="1"/>
<rect x="402.0" y="179.0" width="7" height="24.0" fill="#f23645"/>
<line x1="414.5" x2="414.5" y1="196.0" y2="208.0" stroke="#089981" stroke-width="1"/>
<rect x="411.0" y="199.0" width="7" height="4.0" fill="#089981"/>
<line x1="422.5" x2="422.5" y1="192.0" y2="208.0" stroke="#f23645" stroke-width="1"/>
<rect x="419.0" y="199.0" width="7" height="7.0" fill="#f23645"/>
<line x1="431.5" x2="431.5" y1="195.0" y2="212.0" stroke="#089981" stroke-width="1"/>
<rect x="428.0" y="195.0" width="7" height="11.0" fill="#089981"/>
<line x1="439.5" x2="439.5" y1="201.0" y2="240.0" stroke="#f23645" stroke-width="1"/>
<rect x="436.0" y="225.0" width="7" height="4.0" fill="#f23645"/>
<line x1="448.5" x2="448.5" y1="222.0" y2="250.0" stroke="#f23645" stroke-width="1"/>
<rect x="445.0" y="229.0" width="7" height="20.0" fill="#f23645"/>
<line x1="457.5" x2="457.5" y1="227.0" y2="254.0" stroke="#089981" stroke-width="1"/>
<rect x="454.0" y="230.0" width="7" height="19.0" fill="#089981"/>
<line x1="465.5" x2="465.5" y1="213.0" y2="237.0" stroke="#089981" stroke-width="1"/>
<rect x="462.0" y="229.0" width="7" height="1.0" fill="#089981"/>
<line x1="474.5" x2="474.5" y1="229.0" y2="242.0" stroke="#f23645" stroke-width="1"/>
<rect x="471.0" y="229.0" width="7" height="12.0" fill="#f23645"/>
<line x1="482.5" x2="482.5" y1="229.0" y2="247.0" stroke="#f23645" stroke-width="1"/>
<rect x="479.0" y="240.0" width="7" height="3.0" fill="#f23645"/>
<line x1="491.5" x2="491.5" y1="240.0" y2="259.0" stroke="#f23645" stroke-width="1"/>
<rect x="488.0" y="241.0" width="7" height="1.0" fill="#f23645"/>
<line x1="499.5" x2="499.5" y1="227.0" y2="243.0" stroke="#089981" stroke-width="1"/>
<rect x="496.0" y="232.0" width="7" height="11.0" fill="#089981"/>
<line x1="508.5" x2="508.5" y1="226.0" y2="238.0" stroke="#f23645" stroke-width="1"/>
<rect x="505.0" y="232.0" width="7" height="2.0" fill="#f23645"/>
<line x1="517.5" x2="517.5" y1="232.0" y2="248.0" stroke="#f23645" stroke-width="1"/>
<rect x="514.0" y="233.0" width="7" height="11.0" fill="#f23645"/>
<line x1="525.5" x2="525.5" y1="241.0" y2="290.0" stroke="#f23645" stroke-width="1"/>
<rect x="522.0" y="243.0" width="7" height="28.0" fill="#f23645"/>
<line x1="534.5" x2="534.5" y1="263.0" y2="284.0" stroke="#f23645" stroke-width="1"/>
<rect x="531.0" y="270.0" width="7" height="5.0" fill="#f23645"/>
<line x1="542.5" x2="542.5" y1="266.0" y2="284.0" stroke="#f23645" stroke-width="1"/>
<rect x="539.0" y="274.0" width="7" height="2.0" fill="#f23645"/>
<line x1="551.5" x2="551.5" y1="272.0" y2="300.0" stroke="#f23645" stroke-width="1"/>
<rect x="548.0" y="276.0" width="7" height="16.0" fill="#f23645"/>
<line x1="559.5" x2="559.5" y1="267.0" y2="292.0" stroke="#089981" stroke-width="1"/>
<rect x="556.0" y="267.0" width="7" height="25.0" fill="#089981"/>
<line x1="568.5" x2="568.5" y1="263.0" y2="301.0" stroke="#f23645" stroke-width="1"/>
<rect x="565.0" y="266.0" width="7" height="28.0" fill="#f23645"/>
<line x1="577.5" x2="577.5" y1="291.0" y2="334.0" stroke="#f23645" stroke-width="1"/>
<rect x="574.0" y="292.0" width="7" height="37.0" fill="#f23645"/>
<line x1="585.5" x2="585.5" y1="323.0" y2="345.0" stroke="#089981" stroke-width="1"/>
<rect x="582.0" y="327.0" width="7" height="2.0" fill="#089981"/>
<line x1="594.5" x2="594.5" y1="316.0" y2="333.0" stroke="#089981" stroke-width="1"/>
<rect x="591.0" y="317.0" width="7" height="11.0" fill="#089981"/>
<line x1="602.5" x2="602.5" y1="307.0" y2="326.0" stroke="#089981" stroke-width="1"/>
<rect x="599.0" y="309.0" width="7" height="8.0" fill="#089981"/>
<line x1="611.5" x2="611.5" y1="305.0" y2="318.0" stroke="#f23645" stroke-width="1"/>
<rect x="608.0" y="309.0" width="7" height="8.0" fill="#f23645"/>
<line x1="619.5" x2="619.5" y1="310.0" y2="331.0" stroke="#f23645" stroke-width="1"/>
<rect x="616.0" y="316.0" width="7" height="11.0" fill="#f23645"/>
<line x1="628.5" x2="628.5" y1="316.0" y2="338.0" stroke="#f23645" stroke-width="1"/>
<rect x="625.0" y="326.0" width="7" height="10.0" fill="#f23645"/>
<line x1="637.5" x2="637.5" y1="319.0" y2="333.0" stroke="#089981" stroke-width="1"/>
<rect x="634.0" y="327.0" width="7" height="1.0" fill="#089981"/>
<line x1="645.5" x2="645.5" y1="311.0" y2="334.0" stroke="#089981" stroke-width="1"/>
<rect x="642.0" y="318.0" width="7" height="10.0" fill="#089981"/>
<line x1="654.5" x2="654.5" y1="306.0" y2="345.0" stroke="#089981" stroke-width="1"/>
<rect x="651.0" y="309.0" width="7" height="10.0" fill="#089981"/>
<line x1="662.5" x2="662.5" y1="295.0" y2="312.0" stroke="#089981" stroke-width="1"/>
<rect x="659.0" y="304.0" width="7" height="6.0" fill="#089981"/>
<line x1="671.5" x2="671.5" y1="301.0" y2="337.0" stroke="#f23645" stroke-width="1"/>
<rect x="668.0" y="304.0" width="7" height="30.0" fill="#f23645"/>
<line x1="679.5" x2="679.5" y1="323.0" y2="334.0" stroke="#089981" stroke-width="1"/>
<rect x="676.0" y="323.0" width="7" height="11.0" fill="#089981"/>
<line x1="688.5" x2="688.5" y1="322.0" y2="355.0" stroke="#f23645" stroke-width="1"/>
<rect x="685.0" y="323.0" width="7" height="22.0" fill="#f23645"/>
<line x1="697.5" x2="697.5" y1="337.0" y2="359.0" stroke="#f23645" stroke-width="1"/>
<rect x="694.0" y="344.0" width="7" height="9.0" fill="#f23645"/>
<line x1="705.5" x2="705.5" y1="350.0" y2="381.0" stroke="#f23645" stroke-width="1"/>
<rect x="702.0" y="352.0" width="7" height="26.0" fill="#f23645"/>
<line x1="714.5" x2="714.5" y1="370.0" y2="399.0" stroke="#f23645" stroke-width="1"/>
<rect x="711.0" y="377.0" width="7" height="12.0" fill="#f23645"/>
<line x1="722.5" x2="722.5" y1="384.0" y2="426.0" stroke="#f23645" stroke-width="1"/>
<rect x="719.0" y="387.0" width="7" height="39.0" fill="#f23645"/>
<line x1="731.5" x2="731.5" y1="410.0" y2="436.0" stroke="#089981" stroke-width="1"/>
<rect x="728.0" y="417.0" width="7" height="9.0" fill="#089981"/>
<line x1="739.5" x2="739.5" y1="389.0" y2="422.0" stroke="#089981" stroke-width="1"/>
<rect x="736.0" y="394.0" width="7" height="24.0" fill="#089981"/>
<line x1="748.5" x2="748.5" y1="390.0" y2="410.0" stroke="#f23645" stroke-width="1"/>
<rect x="745.0" y="394.0" width="7" height="4.0" fill="#f23645"/>
<line x1="756.5" x2="756.5" y1="390.0" y2="416.0" stroke="#f23645" stroke-width="1"/>
<rect x="753.0" y="397.0" width="7" height="12.0" fill="#f23645"/>
<line x1="765.5" x2="765.5" y1="379.0" y2="409.0" stroke="#089981" stroke-width="1"/>
<rect x="762.0" y="381.0" width="7" height="28.0" fill="#089981"/>
<line x1="774.5" x2="774.5" y1="365.0" y2="385.0" stroke="#089981" stroke-width="1"/>
<rect x="771.0" y="369.0" width="7" height="13.0" fill="#089981"/>
<line x1="782.5" x2="782.5" y1="348.0" y2="372.0" stroke="#089981" stroke-width="1"/>
<rect x="779.0" y="353.0" width="7" height="17.0" fill="#089981"/>
<line x1="791.5" x2="791.5" y1="353.0" y2="368.0" stroke="#f23645" stroke-width="1"/>
<rect x="788.0" y="353.0" width="7" height="8.0" fill="#f23645"/>
<line x1="799.5" x2="799.5" y1="347.0" y2="363.0" stroke="#089981" stroke-width="1"/>
<rect x="796.0" y="356.0" width="7" height="5.0" fill="#089981"/>
<line x1="808.5" x2="808.5" y1="354.0" y2="374.0" stroke="#f23645" stroke-width="1"/>
<rect x="805.0" y="356.0" width="7" height="7.0" fill="#f23645"/>
<line x1="816.5" x2="816.5" y1="356.0" y2="368.0" stroke="#089981" stroke-width="1"/>
<rect x="813.0" y="359.0" width="7" height="4.0" fill="#089981"/>
<line x1="825.5" x2="825.5" y1="357.0" y2="369.0" stroke="#f23645" stroke-width="1"/>
<rect x="822.0" y="358.0" width="7" height="9.0" fill="#f23645"/>
<line x1="834.5" x2="834.5" y1="363.0" y2="414.0" stroke="#f23645" stroke-width="1"/>
<rect x="831.0" y="363.0" width="7" height="24.0" fill="#f23645"/>
<line x1="842.5" x2="842.5" y1="350.0" y2="387.0" stroke="#089981" stroke-width="1"/>
<rect x="839.0" y="353.0" width="7" height="34.0" fill="#089981"/>
<line x1="851.5" x2="851.5" y1="335.0" y2="359.0" stroke="#089981" stroke-width="1"/>
<rect x="848.0" y="342.0" width="7" height="12.0" fill="#089981"/>
<line x1="859.5" x2="859.5" y1="337.0" y2="352.0" stroke="#f23645" stroke-width="1"/>
<rect x="856.0" y="342.0" width="7" height="3.0" fill="#f23645"/>
<line x1="868.5" x2="868.5" y1="343.0" y2="375.0" stroke="#f23645" stroke-width="1"/>
<rect x="865.0" y="344.0" width="7" height="14.0" fill="#f23645"/>
<line x1="876.5" x2="876.5" y1="345.0" y2="360.0" stroke="#089981" stroke-width="1"/>
<rect x="873.0" y="355.0" width="7" height="3.0" fill="#089981"/>
<line x1="885.5" x2="885.5" y1="353.0" y2="369.0" stroke="#f23645" stroke-width="1"/>
<rect x="882.0" y="355.0" width="7" height="13.0" fill="#f23645"/>
<line x1="894.5" x2="894.5" y1="352.0" y2="368.0" stroke="#089981" stroke-width="1"/>
<rect x="891.0" y="356.0" width="7" height="12.0" fill="#089981"/>
<line x1="902.5" x2="902.5" y1="332.0" y2="357.0" stroke="#089981" stroke-width="1"/>
<rect x="899.0" y="339.0" width="7" height="18.0" fill="#089981"/>
<line x1="911.5" x2="911.5" y1="317.0" y2="343.0" stroke="#089981" stroke-width="1"/>
<rect x="908.0" y="324.0" width="7" height="16.0" fill="#089981"/>
<line x1="10" x2="1126" y1="324.5" y2="324.5" stroke="#089981" stroke-width="1" stroke-dasharray="1 2"/>
<line x1="73" x2="1177" y1="72.5" y2="72.5" stroke="#f23645" stroke-width="1"/>
<line x1="207.8" x2="1177" y1="113.4" y2="113.4" stroke="#f23645" stroke-width="1"/>
<line x1="696.8" x2="1177" y1="212.5" y2="212.5" stroke="#f23645" stroke-width="1"/>
</g>
<g transform="translate(12,522.9) scale(0.84,0.835)" fill="#161616"><path d="M14 18H7V7H0V0h14v18z"/><circle cx="20" cy="4" r="4"/><path d="M28 18h-8l7.500-18h8L28 18z"/></g>
</svg>
<div class="t" style="left:1185.50px;top:54.00px;font-size:12px;line-height:14px;font-weight:normal;color:#131722;transform:scaleX(0.9799);clip-path:inset(7px 0 0 0);">4 240,000</div>
<div class="t" style="left:1185.50px;top:97.00px;font-size:12px;line-height:14px;font-weight:normal;color:#131722;transform:scaleX(0.9799);">4 200,000</div>
<div class="t" style="left:1185.50px;top:139.00px;font-size:12px;line-height:14px;font-weight:normal;color:#131722;transform:scaleX(0.9799);">4 160,000</div>
<div class="t" style="left:1185.50px;top:181.00px;font-size:12px;line-height:14px;font-weight:normal;color:#131722;transform:scaleX(0.9799);">4 120,000</div>
<div class="t" style="left:1185.50px;top:224.00px;font-size:12px;line-height:14px;font-weight:normal;color:#131722;transform:scaleX(0.9799);">4 080,000</div>
<div class="t" style="left:1185.50px;top:266.00px;font-size:12px;line-height:14px;font-weight:normal;color:#131722;transform:scaleX(0.9799);">4 040,000</div>
<div class="t" style="left:1185.50px;top:308.00px;font-size:12px;line-height:14px;font-weight:normal;color:#131722;transform:scaleX(0.9799);">4 000,000</div>
<div class="t" style="left:1185.50px;top:350.00px;font-size:12px;line-height:14px;font-weight:normal;color:#131722;transform:scaleX(0.9799);">3 960,000</div>
<div class="t" style="left:1185.50px;top:393.00px;font-size:12px;line-height:14px;font-weight:normal;color:#131722;transform:scaleX(0.9799);">3 920,000</div>
<div class="t" style="left:1185.50px;top:435.00px;font-size:12px;line-height:14px;font-weight:normal;color:#131722;transform:scaleX(0.9799);">3 880,000</div>
<div class="t" style="left:38.10px;top:480.00px;font-size:12px;line-height:14px;font-weight:bold;color:#131722;transform:scaleX(1.0854);-webkit-text-stroke:0;">23</div>
<div class="t" style="left:235.10px;top:480.00px;font-size:12px;line-height:14px;font-weight:bold;color:#131722;transform:scaleX(1.0854);-webkit-text-stroke:0;">24</div>
<div class="t" style="left:432.10px;top:480.00px;font-size:12px;line-height:14px;font-weight:bold;color:#131722;transform:scaleX(1.0854);-webkit-text-stroke:0;">26</div>
<div class="t" style="left:638.10px;top:480.00px;font-size:12px;line-height:14px;font-weight:bold;color:#131722;transform:scaleX(1.0854);-webkit-text-stroke:0;">28</div>
<div class="t" style="left:835.10px;top:480.00px;font-size:12px;line-height:14px;font-weight:bold;color:#131722;transform:scaleX(1.0854);-webkit-text-stroke:0;">29</div>
<div class="t" style="left:1041.10px;top:480.00px;font-size:12px;line-height:14px;font-weight:bold;color:#131722;transform:scaleX(1.0854);-webkit-text-stroke:0;">30</div>
<div id="usd"></div>
<div class="lab" style="left:1126px;width:51px;border-radius:2px 0 0 2px;"></div>
<div class="lab" style="left:1178px;width:64px;border-radius:0 2px 2px 0;"></div>
<div class="t" style="left:10.20px;top:8.00px;font-size:12px;line-height:14px;font-weight:normal;color:#131722;transform:scaleX(0.8659);">FOULPOINTE</div>
<div class="t" style="left:80.60px;top:8.00px;font-size:12px;line-height:14px;font-weight:normal;color:#131722;transform:scaleX(0.9981);">créé</div>
<div class="t" style="left:108.00px;top:8.00px;font-size:12px;line-height:14px;font-weight:normal;color:#131722;transform:scaleX(0.9701);">avec</div>
<div class="t" style="left:137.10px;top:8.00px;font-size:12px;line-height:14px;font-weight:normal;color:#131722;transform:scaleX(0.9840);">TradingView.com,</div>
<div class="t" style="left:234.80px;top:8.00px;font-size:12px;line-height:14px;font-weight:normal;color:#131722;transform:scaleX(1.0336);">Oct</div>
<div class="t" style="left:257.90px;top:8.00px;font-size:12px;line-height:14px;font-weight:normal;color:#131722;transform:scaleX(0.9648);">29,</div>
<div class="t" style="left:277.80px;top:8.00px;font-size:12px;line-height:14px;font-weight:normal;color:#131722;transform:scaleX(0.9212);">2025</div>
<div class="t" style="left:306.40px;top:8.00px;font-size:12px;line-height:14px;font-weight:normal;color:#131722;transform:scaleX(1.0056);">08:48</div>
<div class="t" style="left:340.30px;top:8.00px;font-size:12px;line-height:14px;font-weight:normal;color:#131722;transform:scaleX(0.8737);">UTC+1</div>
<div class="t" style="left:17.90px;top:35.00px;font-size:12px;line-height:14px;font-weight:normal;color:#131722;transform:scaleX(0.8843);">Or</div>
<div class="t" style="left:36.01px;top:35.00px;font-size:12px;line-height:14px;font-weight:normal;color:#131722;transform:scaleX(0.9500);">/</div>
<div class="t" style="left:44.00px;top:35.00px;font-size:12px;line-height:14px;font-weight:normal;color:#131722;transform:scaleX(1.0337);">Dollar</div>
<div class="t" style="left:79.40px;top:35.00px;font-size:12px;line-height:14px;font-weight:normal;color:#131722;transform:scaleX(1.0158);">Américain</div>
<div class="t" style="left:137.30px;top:35.00px;font-size:12px;line-height:14px;font-weight:normal;color:#131722;transform:scaleX(0.9500);">·</div>
<div class="t" style="left:145.10px;top:35.00px;font-size:12px;line-height:14px;font-weight:normal;color:#131722;transform:scaleX(0.9282);">1h</div>
<div class="t" style="left:162.65px;top:35.00px;font-size:12px;line-height:14px;font-weight:normal;color:#131722;transform:scaleX(0.9500);">·</div>
<div class="t" style="left:169.50px;top:35.00px;font-size:12px;line-height:14px;font-weight:normal;color:#131722;transform:scaleX(0.8855);">OANDA</div>
<div class="t" style="left:213.51px;top:35.00px;font-size:12px;line-height:14px;font-weight:normal;color:#131722;transform:scaleX(0.9500);">O</div>
<div class="t" style="left:222.40px;top:35.00px;font-size:12px;line-height:14px;font-weight:normal;color:#089981;transform:scaleX(0.9742);">3 978,345</div>
<div class="t" style="left:280.23px;top:35.00px;font-size:12px;line-height:14px;font-weight:normal;color:#131722;transform:scaleX(0.9500);">H</div>
<div class="t" style="left:288.40px;top:35.00px;font-size:12px;line-height:14px;font-weight:normal;color:#089981;transform:scaleX(0.9685);">3 998,800</div>
<div class="t" style="left:345.89px;top:35.00px;font-size:12px;line-height:14px;font-weight:normal;color:#131722;transform:scaleX(0.9500);">B</div>
<div class="t" style="left:353.20px;top:35.00px;font-size:12px;line-height:14px;font-weight:normal;color:#089981;transform:scaleX(0.9742);">3 974,890</div>
<div class="t" style="left:410.58px;top:35.00px;font-size:12px;line-height:14px;font-weight:normal;color:#131722;transform:scaleX(0.9500);">C</div>
<div class="t" style="left:418.40px;top:35.00px;font-size:12px;line-height:14px;font-weight:normal;color:#089981;transform:scaleX(0.9742);">3 992,210</div>
<div class="t" style="left:476.60px;top:35.00px;font-size:12px;line-height:14px;font-weight:normal;color:#089981;transform:scaleX(0.9515);">+13,830</div>
<div class="t" style="left:523.40px;top:35.00px;font-size:12px;line-height:14px;font-weight:normal;color:#089981;transform:scaleX(0.9055);">(+0,35%)</div>
<div class="t" style="left:17.90px;top:52.00px;font-size:12px;line-height:14px;font-weight:normal;color:#131722;transform:scaleX(1.0056);">Ichimoku</div>
<div class="t" style="left:70.20px;top:52.00px;font-size:12px;line-height:14px;font-weight:normal;color:#131722;transform:scaleX(1.0203);">(9,</div>
<div class="t" style="left:88.10px;top:52.00px;font-size:12px;line-height:14px;font-weight:normal;color:#131722;transform:scaleX(1.0067);">26,</div>
<div class="t" style="left:109.20px;top:52.00px;font-size:12px;line-height:14px;font-weight:normal;color:#131722;transform:scaleX(0.9828);">52,</div>
<div class="t" style="left:129.30px;top:52.00px;font-size:12px;line-height:14px;font-weight:normal;color:#131722;transform:scaleX(0.9859);">26)</div>
<div class="t" style="left:153.50px;top:52.00px;font-size:12px;line-height:14px;font-weight:normal;color:#2962ff;transform:scaleX(0.9837);">3 966,455</div>
<div class="t" style="left:212.50px;top:52.00px;font-size:12px;line-height:14px;font-weight:normal;color:#b71c1c;transform:scaleX(0.9551);">3 942,633</div>
<div class="t" style="left:270.50px;top:52.00px;font-size:12px;line-height:14px;font-weight:normal;color:#43a047;transform:scaleX(0.9647);">3 992,210</div>
<div class="t" style="left:328.10px;top:52.00px;font-size:12px;line-height:14px;font-weight:normal;color:#a5d6a7;transform:scaleX(0.9818);">3 954,544</div>
<div class="t" style="left:386.60px;top:52.00px;font-size:12px;line-height:14px;font-weight:normal;color:#ef9a9a;transform:scaleX(0.9742);">3 985,818</div>
<div class="t" style="left:17.90px;top:69.00px;font-size:12px;line-height:14px;font-weight:normal;color:#131722;transform:scaleX(0.8617);">BB</div>
<div class="t" style="left:35.30px;top:69.00px;font-size:12px;line-height:14px;font-weight:normal;color:#131722;transform:scaleX(0.9813);">(20,</div>
<div class="t" style="left:60.20px;top:69.00px;font-size:12px;line-height:14px;font-weight:normal;color:#131722;transform:scaleX(0.8656);">SMA,</div>
<div class="t" style="left:89.20px;top:69.00px;font-size:12px;line-height:14px;font-weight:normal;color:#131722;transform:scaleX(1.0013);">close,</div>
<div class="t" style="left:124.60px;top:69.00px;font-size:12px;line-height:14px;font-weight:normal;color:#131722;transform:scaleX(1.0026);">2)</div>
<div class="t" style="left:142.30px;top:69.00px;font-size:12px;line-height:14px;font-weight:normal;color:#2962ff;transform:scaleX(0.9837);">3 956,968</div>
<div class="t" style="left:201.20px;top:69.00px;font-size:12px;line-height:14px;font-weight:normal;color:#f23645;transform:scaleX(0.9590);">3 993,269</div>
<div class="t" style="left:259.10px;top:69.00px;font-size:12px;line-height:14px;font-weight:normal;color:#089981;transform:scaleX(0.9685);">3 920,666</div>
<div class="t" style="left:1189.90px;top:37.00px;font-size:12px;line-height:14px;font-weight:normal;color:#131722;transform:scaleX(0.8483);">USD</div>
<div class="t" style="left:1130.00px;top:317.00px;font-size:12px;line-height:14px;font-weight:normal;color:#fff;transform:scaleX(0.8397);">XAUUSD</div>
<div class="t" style="left:1185.50px;top:317.00px;font-size:12px;line-height:14px;font-weight:normal;color:#fff;transform:scaleX(0.9799);">3 992,210</div>
<div class="t" style="left:48.90px;top:518.00px;font-size:21px;line-height:25px;font-weight:bold;color:#161616;transform:scaleX(0.9844);">TradingView</div>
</body></html>
